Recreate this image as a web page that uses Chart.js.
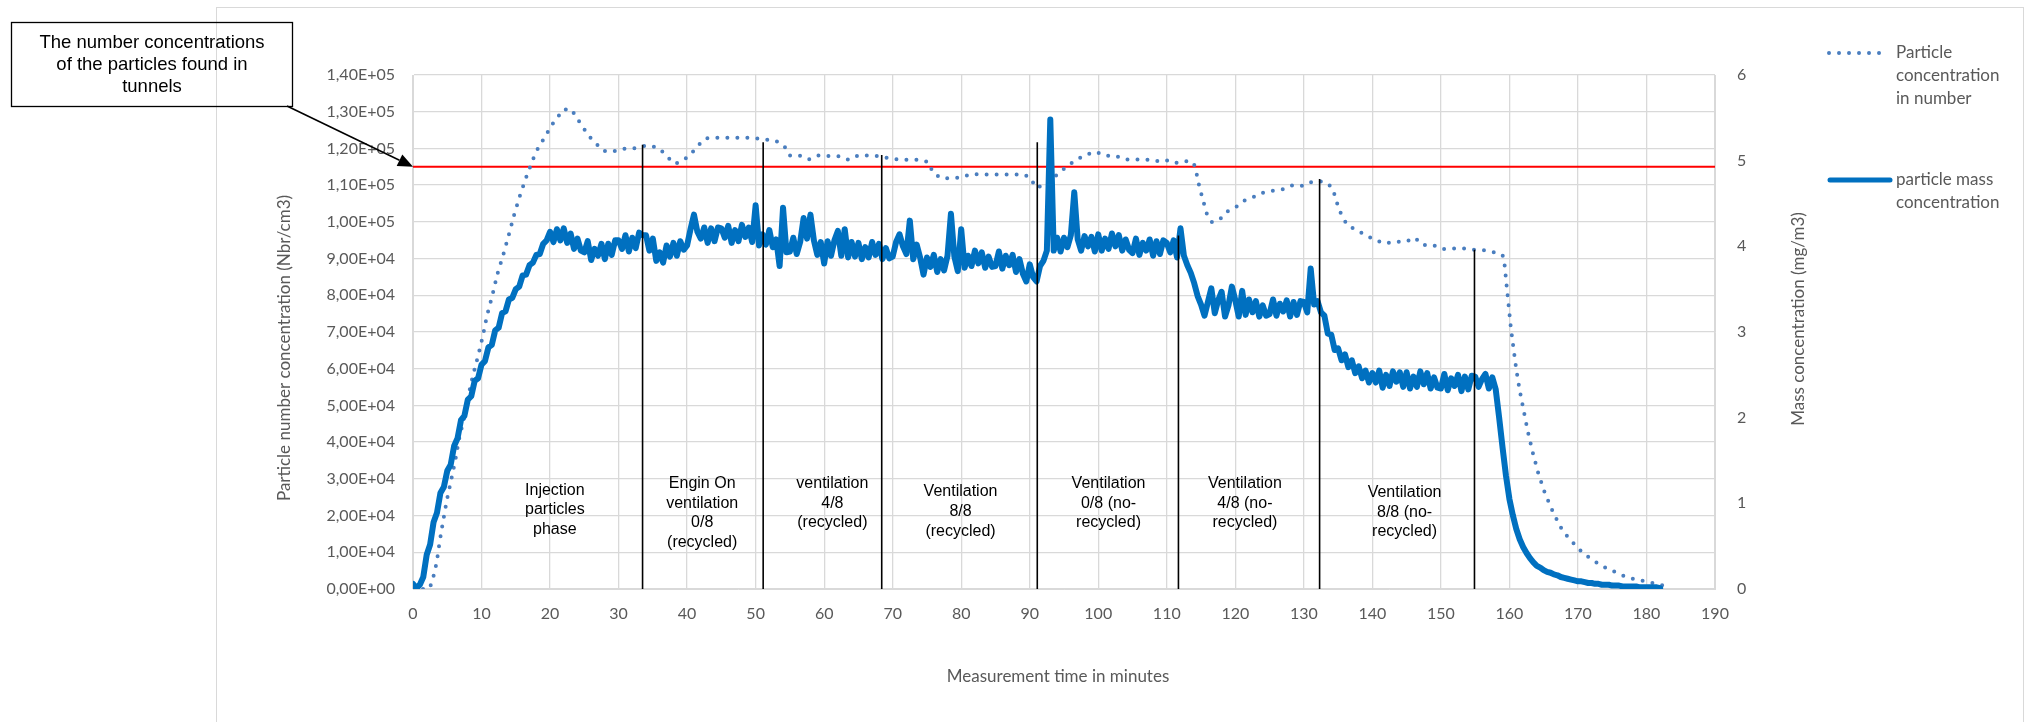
<!DOCTYPE html>
<html><head><meta charset="utf-8">
<script src="https://cdn.jsdelivr.net/npm/chart.js@4.4.1/dist/chart.umd.min.js"></script>
<style>html,body{margin:0;padding:0;background:#fff;}canvas{display:block;}</style>
</head><body>
<canvas id="c" width="2029" height="722" style="width:2029px;height:722px"></canvas>
<script>
// Particle number concentration (Nbr/cm3) vs minutes
const numTime = [0,2.3,2.77,3.45,3.9,4.4,4.95,5.6,6.2,6.7,7.4,8.0,8.7,9.5,10.2,10.8,11.6,12.3,13.2,14.0,14.8,15.7,16.7,17.8,18.5,19.4,20.0,21.0,21.8,23.1,23.9,24.8,25.6,26.7,27.7,29.1,30.5,32.0,33.4,34.7,36.0,37.1,38.2,39.5,40.6,41.6,42.6,44.1,45.7,47.2,48.7,50.2,51.5,52.9,54.2,54.9,56.4,57.8,59.2,60.7,62.2,63.6,65.0,66.5,68.0,69.5,71.0,72.5,74.1,75.3,75.8,77.0,78.5,80.0,81.4,82.9,84.5,86.0,87.6,89.1,90.2,90.8,91.9,93.2,94.4,95.6,96.8,98.2,99.6,101.0,102.5,103.9,105.4,106.9,108.4,109.8,111.1,112.6,113.9,114.3,114.6,115.0,115.8,116.6,117.8,118.9,120.2,121.4,122.7,124.1,125.5,127.0,128.4,129.9,131.4,132.8,134.1,134.6,135.0,135.6,136.4,137.7,139.1,140.4,141.8,143.3,144.9,146.2,147.3,148.8,150.2,151.7,153.2,154.7,156.2,157.7,159.0,159.3,159.6,159.9,160.2,160.6,161.0,161.5,162.1,162.7,163.4,164.2,165.2,166.4,167.8,169.9,171.0,172.3,173.6,175.0,176.5,178.0,179.5,181.0,182.6];
const numValue = [0,0,1700,7200,13000,18600,24300,30000,35300,40700,46200,52000,57800,63500,69000,74500,80100,85700,91200,96600,102200,107700,113100,118400,121000,123400,125900,128100,130500,130700,128300,125800,123500,121400,119400,119100,119900,119900,120600,120800,119900,117700,115800,116800,118600,120800,122700,122900,122900,122900,122900,122700,122400,122100,120600,118100,118100,117000,118100,117900,117900,116900,118100,118100,117900,117300,116900,116900,116900,116200,113600,111900,111900,112100,113000,112900,112900,112900,112900,112900,111900,109400,109800,111600,113500,115400,116900,118300,119100,118000,118000,117000,117000,117000,116500,116900,116000,116600,116200,113600,110800,107900,102400,99900,100800,102900,104200,105900,106800,108000,108500,108900,110000,109800,111100,111000,109500,106800,104100,101400,99000,97800,96300,95100,94100,94600,94600,95700,93700,93700,92600,92700,92800,92400,92300,91700,91000,88200,82500,76900,71300,65500,59800,54100,48400,42800,37200,31600,26000,20800,15700,11300,9400,7700,6200,5000,3700,2800,2200,1600,900];

// Particle mass concentration (mg/m3), one reading every half minute from 0 to 182 min
const massStart = 0;
const massStep = 0.5;
const massValue = [
0.06,0.01,0.05,0.14,0.40,0.52,0.78,0.89,1.12,1.19,
1.38,1.45,1.67,1.76,1.97,2.02,2.21,2.25,2.43,2.46,
2.62,2.66,2.82,2.85,3.02,3.05,3.22,3.24,3.38,3.40,
3.50,3.53,3.66,3.67,3.78,3.81,3.90,3.91,4.03,4.07,
4.17,4.05,4.20,4.07,4.21,4.04,4.15,3.97,4.09,3.95,
3.93,4.06,3.84,3.97,3.89,4.03,3.85,4.03,3.90,4.07,
4.07,3.97,4.13,3.94,4.10,3.98,4.16,4.13,4.13,3.95,
4.09,3.83,3.93,3.81,4.01,3.88,4.04,3.89,4.06,3.96,
4.01,4.20,4.37,4.17,4.09,4.22,4.04,4.21,4.06,4.22,
4.21,4.10,4.24,4.04,4.19,4.06,4.25,4.11,4.22,4.05,
4.48,4.01,4.14,4.02,4.19,3.99,4.08,3.77,4.45,3.93,
3.94,4.10,3.91,4.05,4.33,4.09,4.37,4.07,3.90,4.05,
3.80,4.06,3.89,4.07,4.18,3.89,4.20,3.87,4.05,3.88,
4.04,3.85,3.99,3.87,4.05,3.90,4.03,3.85,3.98,3.86,
3.88,4.05,4.14,4.00,3.91,4.30,3.85,4.02,3.87,3.67,
3.87,3.76,3.90,3.70,3.85,3.72,3.89,4.38,3.88,3.71,
4.20,3.75,3.89,3.77,3.95,3.80,3.93,3.75,3.88,3.76,
3.77,3.94,3.74,3.89,3.78,3.90,3.70,3.85,3.68,3.59,
3.79,3.64,3.59,3.77,3.83,3.95,5.48,3.95,4.10,3.94,
4.10,3.99,4.13,4.63,4.08,3.95,4.12,4.00,4.11,3.94,
4.14,3.95,4.09,3.97,4.15,4.00,4.13,3.95,4.08,3.96,
3.92,4.09,3.90,4.04,3.95,4.08,3.89,4.06,3.91,4.07,
4.04,3.93,4.07,3.87,4.21,3.89,3.78,3.69,3.57,3.42,
3.32,3.19,3.35,3.51,3.22,3.37,3.47,3.18,3.31,3.53,
3.37,3.18,3.48,3.20,3.38,3.23,3.36,3.18,3.31,3.19,
3.21,3.38,3.19,3.33,3.24,3.37,3.18,3.35,3.20,3.36,
3.35,3.23,3.74,3.32,3.36,3.23,3.19,2.98,2.97,2.79,
2.81,2.67,2.74,2.59,2.67,2.52,2.60,2.46,2.55,2.41,
2.52,2.41,2.55,2.35,2.50,2.37,2.54,2.42,2.53,2.36,
2.53,2.34,2.48,2.36,2.54,2.39,2.52,2.34,2.47,2.35,
2.34,2.51,2.32,2.46,2.37,2.50,2.31,2.48,2.33,2.49,
2.48,2.36,2.45,2.51,2.34,2.47,2.33,2.00,1.65,1.32,
1.05,0.86,0.70,0.58,0.49,0.42,0.36,0.31,0.27,0.25,
0.22,0.20,0.19,0.17,0.16,0.14,0.13,0.12,0.11,0.10,
0.09,0.09,0.08,0.07,0.07,0.06,0.06,0.05,0.05,0.05,
0.04,0.04,0.04,0.03,0.03,0.03,0.03,0.03,0.02,0.02,
0.02,0.02,0.02,0.02,0.01];

// Tunnel reference level (number concentration)
const refTime = [0, 190];
const refValue = [115000, 115000];

// Phase dividers (minute, top of the line in Nbr/cm3)
const dividerTime = [33.5, 51.1, 68.4, 91.1, 111.7, 132.3, 154.9];
const dividerTop = [121000, 121700, 118200, 121700, 96300, 111700, 92400];

// Phase labels (centre minute, first-line level)
const phaseTime = [20.7, 42.2, 61.2, 79.9, 101.5, 121.4, 144.7];
const phaseLevel = [26900, 28700, 28700, 26400, 28700, 28700, 26200];
const phaseText = [
  ['Injection','particles','phase'],
  ['Engin On','ventilation','0/8','(recycled)'],
  ['ventilation','4/8','(recycled)'],
  ['Ventilation','8/8','(recycled)'],
  ['Ventilation','0/8 (no-','recycled)'],
  ['Ventilation','4/8 (no-','recycled)'],
  ['Ventilation','8/8 (no-','recycled)']
];

const leftTickLabels = ['0,00E+00','1,00E+04','2,00E+04','3,00E+04','4,00E+04','5,00E+04','6,00E+04','7,00E+04','8,00E+04','9,00E+04','1,00E+05','1,10E+05','1,20E+05','1,30E+05','1,40E+05'];
const rightTickLabels = ['0','1','2','3','4','5','6'];
const noteText = ['The number concentrations','of the particles found in','tunnels'];
const legendNum = ['Particle','concentration','in number'];
const legendMass = ['particle mass','concentration'];
const titleLeft = 'Particle number concentration (Nbr/cm3)';
const titleRight = 'Mass concentration (mg/m3)';
const titleX = 'Measurement time in minutes';

const GRAY = '#595959';
const UI = 'Lato, "Open Sans", sans-serif';
const ARIAL = '"Liberation Sans", Arial, sans-serif';
const NUM_COLOR = '#4a7ebf';
const MASS_COLOR = '#0070c0';

const overlay = {
  id: 'overlay',
  beforeDraw(chart) {
    const ctx = chart.ctx;
    ctx.save();
    ctx.strokeStyle = '#d9d9d9';
    ctx.lineWidth = 1;
    ctx.strokeRect(216.5, 7.5, 1807, 760);
    ctx.restore();
  },
  afterDatasetsDraw(chart) {
    const ctx = chart.ctx;
    const x = chart.scales.x, yL = chart.scales.yL;
    ctx.save();
    // dividers
    ctx.strokeStyle = '#000';
    ctx.lineWidth = 1.6;
    dividerTime.forEach((t, i) => {
      const px = x.getPixelForValue(t);
      ctx.beginPath();
      ctx.moveTo(px, yL.getPixelForValue(0));
      ctx.lineTo(px, yL.getPixelForValue(dividerTop[i]));
      ctx.stroke();
    });
    // phase labels
    ctx.fillStyle = '#000';
    ctx.font = '16px ' + ARIAL;
    ctx.textAlign = 'center';
    ctx.textBaseline = 'middle';
    phaseTime.forEach((t, i) => {
      const px = x.getPixelForValue(t);
      const py = yL.getPixelForValue(phaseLevel[i]);
      phaseText[i].forEach((s, j) => ctx.fillText(s, px, py + j * 19.6));
    });
    // annotation box
    ctx.strokeStyle = '#000';
    ctx.lineWidth = 1.3;
    ctx.strokeRect(11.5, 22.5, 281, 84);
    ctx.font = '18.5px ' + ARIAL;
    ctx.fillStyle = '#000';
    noteText.forEach((s, j) => ctx.fillText(s, 152, 43 + j * 22));
    // arrow to the reference line
    const tx = x.getPixelForValue(refTime[0]);
    const ty = yL.getPixelForValue(refValue[0]);
    const sx = 287, sy = 106;
    const ang = Math.atan2(ty - sy, tx - sx);
    const hl = 15, hw = 6.5;
    const bx = tx - hl * Math.cos(ang), by = ty - hl * Math.sin(ang);
    ctx.lineWidth = 1.6;
    ctx.beginPath(); ctx.moveTo(sx, sy); ctx.lineTo(bx, by); ctx.stroke();
    ctx.beginPath();
    ctx.moveTo(tx, ty);
    ctx.lineTo(bx + hw * Math.sin(ang), by - hw * Math.cos(ang));
    ctx.lineTo(bx - hw * Math.sin(ang), by + hw * Math.cos(ang));
    ctx.closePath(); ctx.fill();
    // axis titles
    ctx.fillStyle = GRAY;
    ctx.font = '17px ' + UI;
    ctx.save(); ctx.translate(285, 348); ctx.rotate(-Math.PI / 2); ctx.fillText(titleLeft, 0, 0); ctx.restore();
    ctx.save(); ctx.translate(1799, 319); ctx.rotate(-Math.PI / 2); ctx.fillText(titleRight, 0, 0); ctx.restore();
    ctx.fillText(titleX, 1058, 677);
    // legend
    ctx.strokeStyle = NUM_COLOR; ctx.lineWidth = 4; ctx.lineCap = 'round';
    ctx.setLineDash([0, 10]);
    ctx.beginPath(); ctx.moveTo(1829, 53); ctx.lineTo(1884, 53); ctx.stroke();
    ctx.setLineDash([]);
    ctx.strokeStyle = MASS_COLOR; ctx.lineWidth = 5;
    ctx.beginPath(); ctx.moveTo(1830, 180); ctx.lineTo(1890, 180); ctx.stroke();
    ctx.textAlign = 'left';
    ctx.fillStyle = GRAY;
    legendNum.forEach((s, j) => ctx.fillText(s, 1896, 53 + j * 23));
    legendMass.forEach((s, j) => ctx.fillText(s, 1896, 180 + j * 23));
    ctx.restore();
  }
};

const numData = numTime.map((t, i) => ({x: t, y: numValue[i]}));
const massData = massValue.map((v, i) => ({x: massStart + i * massStep, y: v}));
const refData = refTime.map((t, i) => ({x: t, y: refValue[i]}));

new Chart(document.getElementById('c'), {
  type: 'line',
  data: {
    datasets: [
      {label: 'particle mass concentration', data: massData, yAxisID: 'yR', borderColor: MASS_COLOR, borderWidth: 6, pointRadius: 0, borderJoinStyle: 'round', borderCapStyle: 'round', order: 0},
      {label: 'Particle concentration in number', data: numData, yAxisID: 'yL', borderColor: NUM_COLOR, borderWidth: 4, borderDash: [0, 10], borderCapStyle: 'round', pointRadius: 0, order: 1},
      {label: 'tunnel level', data: refData, yAxisID: 'yL', borderColor: '#ff0000', borderWidth: 2, pointRadius: 0, order: 2}
    ]
  },
  options: {
    responsive: false,
    animation: false,
    events: [],
    layout: {padding: {left: 265, right: 194, top: 75, bottom: 0}},
    plugins: {legend: {display: false}, tooltip: {enabled: false}},
    scales: {
      x: {
        type: 'linear', min: 0, max: 190,
        ticks: {stepSize: 10, color: GRAY, font: {family: UI, size: 16}, padding: 15, maxRotation: 0},
        grid: {color: '#d9d9d9', lineWidth: 1.3, drawTicks: false},
        border: {color: '#d9d9d9'},
        afterFit(s) { s.height = 133; }
      },
      yL: {
        position: 'left', min: 0, max: 140000,
        ticks: {stepSize: 10000, color: GRAY, font: {family: UI, size: 16}, padding: 18,
          callback: (v) => leftTickLabels[Math.round(v / 10000)]},
        grid: {color: '#d9d9d9', lineWidth: 1.3, drawTicks: false},
        border: {color: '#d9d9d9'},
        afterFit(s) { s.width = 148; }
      },
      yR: {
        position: 'right', min: 0, max: 6,
        ticks: {stepSize: 1, color: GRAY, font: {family: UI, size: 16}, padding: 22,
          callback: (v) => rightTickLabels[Math.round(v)]},
        grid: {drawOnChartArea: false, drawTicks: false},
        border: {color: '#d9d9d9'},
        afterFit(s) { s.width = 120; }
      }
    }
  },
  plugins: [overlay]
});
</script>
</body></html>
